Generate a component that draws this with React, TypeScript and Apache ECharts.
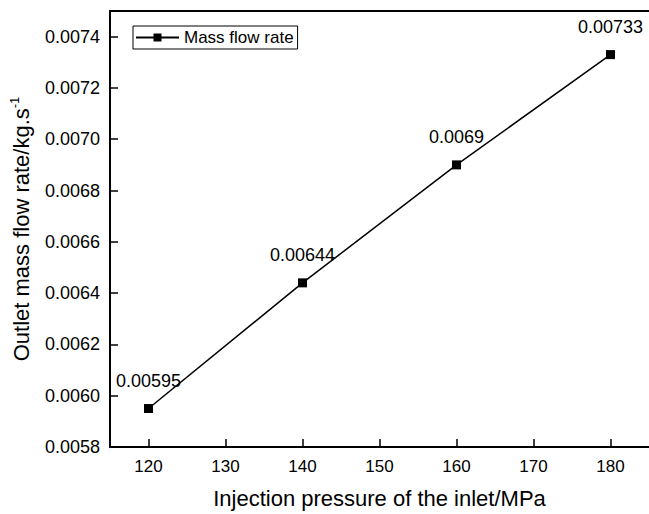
import React, { useEffect, useRef } from "react";
import * as echarts from "echarts";

const pressures = [120, 140, 160, 180];
const massFlow = [0.00595, 0.00644, 0.0069, 0.00733];
const xTicks = [120, 130, 140, 150, 160, 170, 180];
const yTicks = [0.0058, 0.006, 0.0062, 0.0064, 0.0066, 0.0068, 0.007, 0.0072, 0.0074];
const seriesName = "Mass flow rate";

const FONT = "Liberation Sans, Arial, sans-serif";

export default function App() {
  const ref = useRef<HTMLDivElement>(null);
  useEffect(() => {
    if (!ref.current) return;
    const chart = echarts.init(ref.current, null, { renderer: "svg" });
    chart.setOption({
      animation: false,
      backgroundColor: "#fff",
      textStyle: { fontFamily: FONT, color: "#000" },
      grid: {
        left: 110,
        top: 11,
        right: -3,
        bottom: 65,
        show: false,
        containLabel: false,
      },
      legend: {
        left: 133,
        top: 26,
        padding: [3, 4, 3, 2],
        borderColor: "#000",
        borderWidth: 1,
        itemWidth: 43,
        itemHeight: 10,
        itemGap: 5,
        textStyle: { fontSize: 17, color: "#000", fontFamily: FONT },
        data: [seriesName],
      },
      xAxis: [
        {
          type: "value",
          min: 115,
          max: 185,
          name: "Injection pressure of the inlet/MPa",
          nameLocation: "middle",
          nameGap: 40,
          nameTextStyle: { fontSize: 22, color: "#000", fontFamily: FONT },
          axisLine: { lineStyle: { color: "#000", width: 2 } },
          axisTick: {
            inside: true,
            length: 8,
            lineStyle: { color: "#000", width: 1.5 },
            customValues: xTicks,
          },
          axisLabel: {
            fontSize: 17,
            color: "#000",
            margin: 11,
            fontFamily: FONT,
            customValues: xTicks,
          },
          splitLine: { show: false },
        },
        {
          type: "value",
          position: "top",
          min: 115,
          max: 185,
          axisLine: { show: true, lineStyle: { color: "#000", width: 2 } },
          axisTick: { show: false },
          axisLabel: { show: false },
          splitLine: { show: false },
        },
      ],
      yAxis: {
        type: "value",
        min: 0.0058,
        max: 0.0075,
        name: "Outlet mass flow rate/kg.s{sup|-1}",
        nameLocation: "middle",
        nameGap: 72,
        nameRotate: 90,
        nameTextStyle: {
          fontSize: 22,
          color: "#000",
          fontFamily: FONT,
          lineHeight: 26,
          rich: {
            sup: {
              fontSize: 13,
              fontFamily: FONT,
              color: "#000",
              verticalAlign: "top",
              lineHeight: 13,
              padding: [0, 0, 11, 0],
            },
          },
        },
        axisLine: { show: true, lineStyle: { color: "#000", width: 2 } },
        axisTick: {
          show: true,
          inside: true,
          length: 8,
          lineStyle: { color: "#000", width: 1.5 },
          customValues: yTicks,
        },
        axisLabel: {
          fontSize: 18,
          color: "#000",
          margin: 10,
          fontFamily: FONT,
          customValues: yTicks,
          formatter: (v: number) => v.toFixed(4),
        },
        splitLine: { show: false },
      },
      series: [
        {
          name: seriesName,
          type: "line",
          xAxisIndex: 0,
          data: pressures.map((p, i) => [p, massFlow[i]]),
          symbol: "rect",
          symbolSize: 9,
          itemStyle: { color: "#000" },
          lineStyle: { color: "#000", width: 1.5 },
          label: {
            show: true,
            position: "top",
            distance: 14,
            fontSize: 18,
            color: "#000",
            fontFamily: FONT,
            formatter: (p: any) => String(p.value[1]),
          },
        },
      ],
    });
    return () => chart.dispose();
  }, []);
  return (
    <div
      ref={ref}
      style={{ position: "fixed", left: 0, top: 0, width: 649, height: 514 }}
    />
  );
}
